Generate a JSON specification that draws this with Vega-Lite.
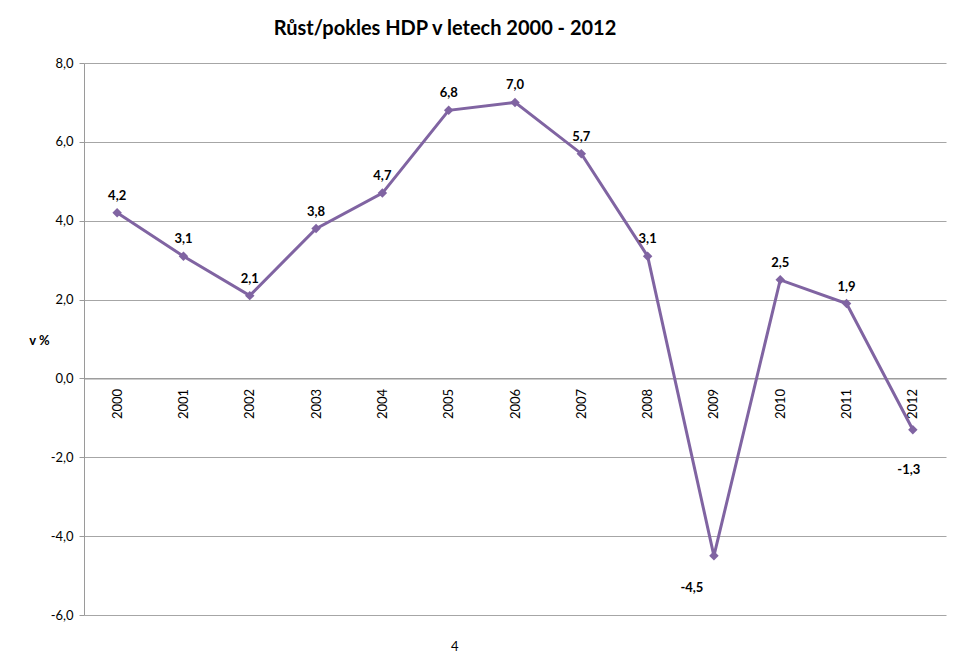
{
  "$schema": "https://vega.github.io/schema/vega-lite/v6.json",
  "width": 862,
  "height": 552,
  "autosize": "none",
  "padding": {"left": 84, "top": 63, "right": 14, "bottom": 38},
  "background": "white",
  "title": {
    "text": "Růst/pokles HDP v letech 2000 - 2012",
    "anchor": "middle",
    "dx": -70,
    "offset": 18,
    "fontSize": 20,
    "fontWeight": "bold",
    "font": "Lato",
    "color": "#000000"
  },
  "config": {
    "view": {"stroke": null},
    "locale": {"number": {"decimal": ",", "thousands": " ", "grouping": [3], "currency": ["", " Kč"], "minus": "-"}},
    "font": "Lato"
  },
  "data": {
    "values": [
      {"rok": "2000", "hdp": 4.2},
      {"rok": "2001", "hdp": 3.1},
      {"rok": "2002", "hdp": 2.1},
      {"rok": "2003", "hdp": 3.8},
      {"rok": "2004", "hdp": 4.7},
      {"rok": "2005", "hdp": 6.8},
      {"rok": "2006", "hdp": 7.0},
      {"rok": "2007", "hdp": 5.7},
      {"rok": "2008", "hdp": 3.1},
      {"rok": "2009", "hdp": -4.5},
      {"rok": "2010", "hdp": 2.5},
      {"rok": "2011", "hdp": 1.9},
      {"rok": "2012", "hdp": -1.3}
    ]
  },
  "encoding": {
    "x": {
      "field": "rok",
      "type": "ordinal",
      "scale": {"type": "point", "padding": 0.5},
      "axis": {
        "title": null,
        "orient": "bottom",
        "offset": -236.6,
        "labelAngle": -90,
        "labelAlign": "right",
        "labelBaseline": "middle",
        "labelPadding": 10,
        "ticks": false,
        "domainColor": "#9a9a9a",
        "domainWidth": 1.2,
        "labelFontSize": 13,
        "labelColor": "#000000",
        "grid": false
      }
    },
    "y": {
      "field": "hdp",
      "type": "quantitative",
      "scale": {"domain": [-6, 8], "nice": false, "zero": false},
      "axis": {
        "values": [-6, -4, -2, 0, 2, 4, 6, 8],
        "format": ".1f",
        "title": "v %",
        "titleAngle": 0,
        "titleX": -45,
        "titleY": 277,
        "titleAlign": "center",
        "titleBaseline": "middle",
        "titleFontSize": 13,
        "titleFontWeight": "bold",
        "titleColor": "#000000",
        "labelFontSize": 13,
        "labelColor": "#000000",
        "labelPadding": 6,
        "tickSize": 5,
        "tickColor": "#9a9a9a",
        "domainColor": "#9a9a9a",
        "grid": true,
        "gridColor": "#a6a6a6",
        "gridWidth": 1.2
      }
    }
  },
  "layer": [
    {
      "mark": {"type": "line", "color": "#8064A2", "strokeWidth": 3},
      "encoding": {}
    },
    {
      "mark": {"type": "point", "shape": "diamond", "filled": true, "color": "#8064A2", "size": 90, "opacity": 1},
      "encoding": {}
    },
    {
      "transform": [{"filter": "datum.hdp > 0"}],
      "mark": {"type": "text", "dy": -17, "fontSize": 13, "fontWeight": "bold", "fill": "#000000"},
      "encoding": {"text": {"field": "hdp", "type": "quantitative", "format": ".1f"}}
    },
    {
      "transform": [{"filter": "datum.rok == '2009'"}],
      "mark": {"type": "text", "dx": -22, "dy": 32, "fontSize": 13, "fontWeight": "bold", "fill": "#000000"},
      "encoding": {"text": {"field": "hdp", "type": "quantitative", "format": ".1f"}}
    },
    {
      "transform": [{"filter": "datum.rok == '2012'"}],
      "mark": {"type": "text", "dx": -4, "dy": 40, "fontSize": 13, "fontWeight": "bold", "fill": "#000000"},
      "encoding": {"text": {"field": "hdp", "type": "quantitative", "format": ".1f"}}
    },
    {
      "transform": [{"filter": "datum.rok == '2005'"}],
      "mark": {"type": "text", "text": "4", "fontSize": 13, "fill": "#000000", "dx": 6, "dy": 32},
      "encoding": {
        "y": {"datum": -6, "type": "quantitative"}
      }
    }
  ]
}
